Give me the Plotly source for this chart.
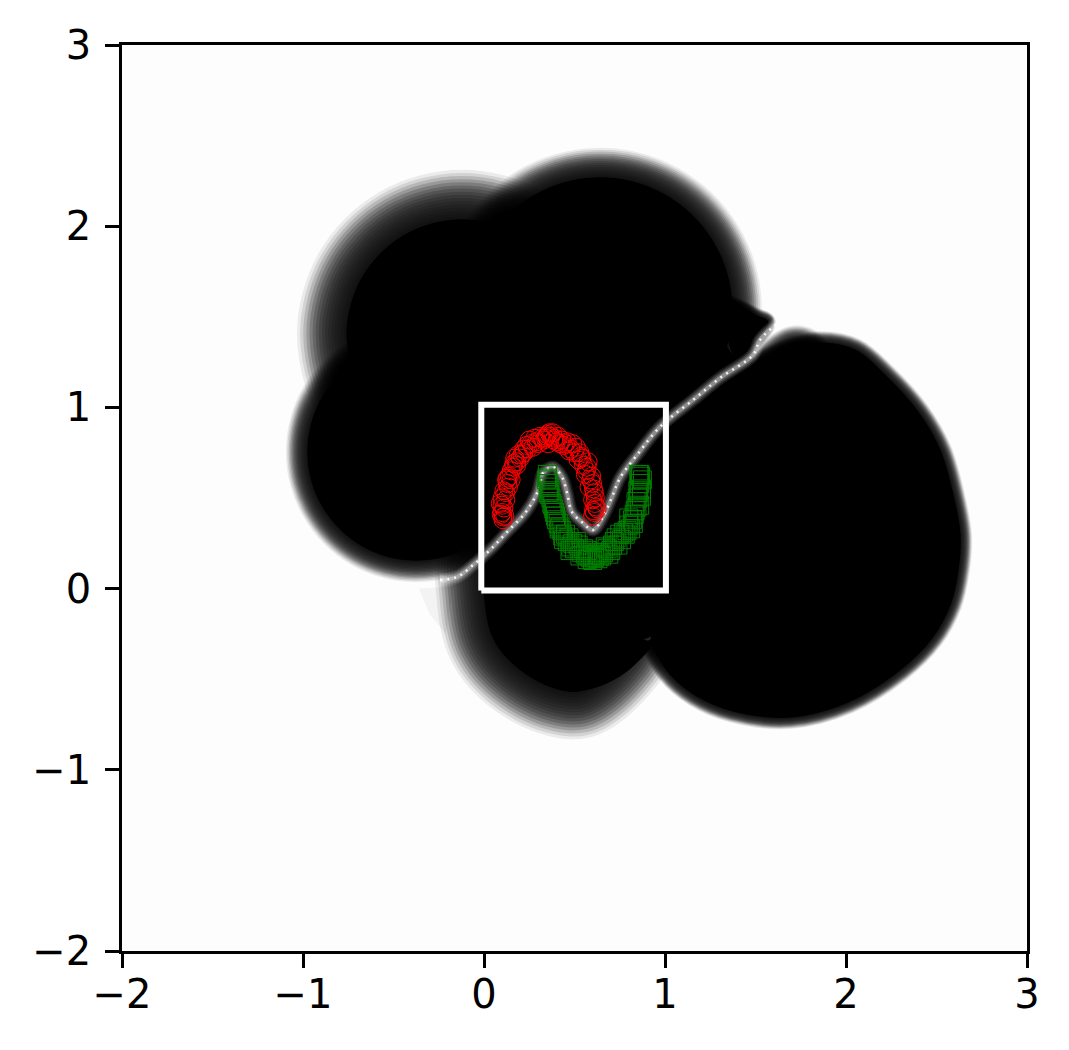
import plotly.graph_objects as go

# decision surface: black edge of each lobe
upleft_x = [-0.53, -0.672, -0.719, -0.757, -0.735, -0.672, -0.571, -0.44, -0.286, -0.122, 0.042, 0.196]
upleft_y = [0.914, 1.082, 1.183, 1.40, 1.564, 1.718, 1.849, 1.95, 2.013, 2.035, 2.013, 1.95]

top_x = [-0.044, 0.083, 0.223, 0.392, 0.577, 0.768, 0.949, 1.11, 1.238, 1.326, 1.367, 1.359, 1.302]
top_y = [1.787, 2.007, 2.135, 2.223, 2.264, 2.256, 2.199, 2.096, 1.956, 1.787, 1.602, 1.411, 1.23]

left_x = [-0.58, -0.76, -0.893, -0.953, -0.973, -0.953, -0.893, -0.798, -0.675, -0.53, -0.376, -0.221, -0.078, 0.046]
left_y = [1.315, 1.211, 1.053, 0.909, 0.754, 0.60, 0.456, 0.332, 0.237, 0.177, 0.157, 0.177, 0.237, 0.332]

bottom_x = [0.05, -0.006, 0.0, 0.017, 0.044, 0.099, 0.188, 0.298, 0.409, 0.519, 0.62, 0.707, 0.79, 0.862]
bottom_y = [0.35, 0.103, -0.008, -0.157, -0.256, -0.35, -0.438, -0.51, -0.554, -0.565, -0.505, -0.42, -0.315, -0.2]

# black part of the bottom lobe reaches further right than its soft edge
bottom_fill_x = [0.409, 0.519, 0.68, 0.82, 0.92, 0.6]
bottom_fill_y = [-0.554, -0.565, -0.52, -0.43, -0.3, -0.3]

right_x = [1.442, 1.58, 1.718, 1.856, 2.05, 2.215, 2.398, 2.519, 2.591, 2.63, 2.619, 2.575, 2.475, 2.298,
           2.011, 1.691, 1.376, 1.166, 1.017, 0.917]
right_y = [1.179, 1.273, 1.328, 1.355, 1.317, 1.179, 0.975, 0.765, 0.517, 0.296, 0.103, -0.09, -0.273, -0.449,
           -0.626, -0.709, -0.675, -0.587, -0.46, -0.284]

# dark wedges either side of the far end of the ridge
wedge_up_x = [1.28, 1.40, 1.497, 1.569, 1.481, 1.387]
wedge_up_y = [1.60, 1.56, 1.51, 1.471, 1.344, 1.234]
wedge_low_x = [1.442, 1.58, 1.70, 1.78, 1.88]
wedge_low_y = [1.179, 1.273, 1.35, 1.34, 1.22]

# solid middle between the lobes
core_x = [-0.85, -0.7, -0.3, -0.02, 0.05, 0.03, 0.6, 0.95, 2.4, 2.4, 1.7, 1.44, 1.3, 1.2, 0.6, -0.45, -0.7]
core_y = [0.8, 0.4, 0.2, 0.25, 0.15, -0.2, -0.4, -0.25, 0.0, 0.8, 1.25, 1.18, 1.4, 1.8, 2.2, 1.85, 1.4]

# faint fan under the lower left lobe
fan_x = [-0.36, -0.30, -0.21, -0.17]
fan_y = [-0.0, -0.14, -0.25, 0.01]

# pale boundary running between the two classes
ridge_x = [-0.243, -0.149, -0.06, 0.033, 0.127, 0.227, 0.293, 0.326, 0.381, 0.431, 0.459, 0.486, 0.547,
           0.602, 0.657, 0.707, 0.751, 0.845, 0.972, 1.155, 1.304, 1.486, 1.525, 1.597, 1.68]
ridge_y = [0.047, 0.064, 0.13, 0.213, 0.312, 0.417, 0.528, 0.638, 0.671, 0.616, 0.528, 0.423, 0.362,
           0.323, 0.395, 0.505, 0.61, 0.737, 0.892, 1.041, 1.162, 1.289, 1.372, 1.444, 1.51]

box_x = [-0.015, 1.005, 1.005, -0.015, -0.015]
box_y = [-0.01, -0.01, 1.015, 1.015, -0.01]

red_x = [0.105, 0.10, 0.09, 0.11, 0.10, 0.12, 0.11, 0.13, 0.125, 0.14, 0.16, 0.15, 0.18, 0.17, 0.20, 0.19, 0.22,
         0.235, 0.22, 0.26, 0.27, 0.25, 0.29, 0.31, 0.30, 0.33, 0.35, 0.34, 0.37, 0.36, 0.39, 0.41, 0.40, 0.43,
         0.45, 0.44, 0.49, 0.50, 0.48, 0.53, 0.52, 0.55, 0.54, 0.57, 0.56, 0.59, 0.58, 0.60, 0.61, 0.60, 0.62, 0.61,
         0.095, 0.105, 0.115, 0.10, 0.12, 0.135, 0.15, 0.13, 0.165, 0.18, 0.21, 0.24, 0.28, 0.32, 0.345, 0.355,
         0.38, 0.385, 0.42, 0.46, 0.47, 0.51, 0.535, 0.565, 0.575, 0.595, 0.605, 0.615, 0.605, 0.612, 0.60, 0.625]
red_y = [0.395, 0.42, 0.47, 0.445, 0.50, 0.49, 0.54, 0.58, 0.60, 0.62, 0.67, 0.65, 0.70, 0.72, 0.72, 0.74, 0.75,
         0.79, 0.77, 0.80, 0.78, 0.82, 0.81, 0.84, 0.80, 0.82, 0.85, 0.83, 0.84, 0.86, 0.83, 0.84, 0.81, 0.82,
         0.80, 0.79, 0.80, 0.75, 0.77, 0.75, 0.71, 0.68, 0.72, 0.67, 0.63, 0.60, 0.56, 0.58, 0.53, 0.49, 0.45, 0.42,
         0.41, 0.38, 0.40, 0.46, 0.53, 0.56, 0.60, 0.61, 0.69, 0.68, 0.74, 0.77, 0.83, 0.83, 0.84, 0.80,
         0.86, 0.82, 0.80, 0.81, 0.76, 0.78, 0.73, 0.65, 0.70, 0.62, 0.55, 0.50, 0.43, 0.47, 0.40, 0.44]

green_x = [0.35, 0.35, 0.355, 0.36, 0.365, 0.37, 0.39, 0.38, 0.40, 0.41, 0.43, 0.42, 0.45, 0.44, 0.47, 0.49, 0.48,
           0.50, 0.52, 0.54, 0.56, 0.55, 0.58, 0.60, 0.59, 0.62, 0.61, 0.64, 0.66, 0.65, 0.68, 0.70, 0.69, 0.72,
           0.74, 0.73, 0.76, 0.79, 0.78, 0.80, 0.82, 0.81, 0.83, 0.845, 0.84, 0.85, 0.86, 0.855, 0.87, 0.86,
           0.345, 0.355, 0.36, 0.375, 0.385, 0.395, 0.415, 0.435, 0.46, 0.475, 0.51, 0.53, 0.57, 0.57, 0.60, 0.63,
           0.63, 0.67, 0.71, 0.75, 0.77, 0.80, 0.825, 0.835, 0.85, 0.865, 0.875, 0.86, 0.87, 0.855]
green_y = [0.63, 0.61, 0.58, 0.56, 0.54, 0.50, 0.42, 0.46, 0.38, 0.36, 0.32, 0.34, 0.30, 0.27, 0.28, 0.25, 0.23,
           0.22, 0.24, 0.20, 0.19, 0.22, 0.18, 0.185, 0.17, 0.19, 0.17, 0.18, 0.20, 0.18, 0.22, 0.21, 0.19, 0.26,
           0.24, 0.28, 0.27, 0.32, 0.30, 0.35, 0.38, 0.33, 0.41, 0.45, 0.48, 0.50, 0.58, 0.53, 0.55, 0.63,
           0.60, 0.53, 0.52, 0.47, 0.44, 0.40, 0.33, 0.29, 0.26, 0.21, 0.26, 0.18, 0.21, 0.16, 0.155, 0.20,
           0.165, 0.23, 0.24, 0.30, 0.31, 0.39, 0.36, 0.43, 0.54, 0.62, 0.60, 0.46, 0.51, 0.63]

tick_vals = [-2, -1, 0, 1, 2, 3]

# soft edge: widening see-through strokes round each lobe, then black on top
step_alpha = [0.07, 0.10, 0.13, 0.16, 0.18, 0.18, 0.18, 0.18, 0.17, 0.16, 0.15, 0.14, 0.12, 0.12, 0.12, 0.12]
lobes = [
    (upleft_x, upleft_y, 50),
    (top_x, top_y, 30),
    (left_x, left_y, 22),
    (bottom_x, bottom_y, 48),
    (right_x, right_y, 12),
    (wedge_up_x, wedge_up_y, 8),
    (wedge_low_x, wedge_low_y, 18),
]

fig = go.Figure()

fig.add_trace(go.Scatter(x=fan_x, y=fan_y, mode='lines', fill='toself',
                         fillcolor='#f3f3f3', line=dict(width=0)))

steps = len(step_alpha)
for lx, ly, band in lobes:
    for i, a in enumerate(step_alpha):
        fig.add_trace(go.Scatter(
            x=lx, y=ly, mode='lines',
            line=dict(color='rgba(0,0,0,%s)' % a, width=2 * band * (steps - i) / steps, shape='spline'),
        ))

for lx, ly, band in lobes:
    fig.add_trace(go.Scatter(x=lx, y=ly, mode='lines', fill='toself', fillcolor='black',
                             line=dict(color='black', width=1, shape='spline')))

fig.add_trace(go.Scatter(x=bottom_fill_x, y=bottom_fill_y, mode='lines', fill='toself', fillcolor='black',
                         line=dict(color='black', width=1, shape='spline')))
fig.add_trace(go.Scatter(x=core_x, y=core_y, mode='lines', fill='toself', fillcolor='black',
                         line=dict(color='black', width=1)))

for w, a in [(13, 0.10), (10, 0.13), (7, 0.18), (4, 0.3)]:
    fig.add_trace(go.Scatter(x=ridge_x, y=ridge_y, mode='lines',
                             line=dict(color='rgba(255,255,255,%s)' % a, width=w, shape='spline')))
fig.add_trace(go.Scatter(x=ridge_x, y=ridge_y, mode='lines',
                         line=dict(color='rgba(255,255,255,0.9)', width=2.5, dash='2px,5px', shape='spline')))

fig.add_trace(go.Scatter(x=box_x, y=box_y, mode='lines', line=dict(color='white', width=6)))

fig.add_trace(go.Scatter(x=red_x, y=red_y, mode='markers',
                         marker=dict(symbol='circle-open', size=18, color='#ff0000', line=dict(width=1))))
fig.add_trace(go.Scatter(x=green_x, y=green_y, mode='markers',
                         marker=dict(symbol='square-open', size=18, color='#008000', line=dict(width=1))))

axis = dict(
    range=[-2, 3], tickvals=tick_vals, showgrid=False, zeroline=False,
    showline=True, mirror=True, linecolor='black', linewidth=2.5,
    ticks='outside', ticklen=14, tickwidth=2.5, tickcolor='black',
    tickfont=dict(family='DejaVu Sans', size=40, color='black'),
)

fig.update_layout(
    width=1053, height=1034,
    margin=dict(l=114, r=34, t=37, b=91),
    paper_bgcolor='white', plot_bgcolor='#fdfdfd',
    showlegend=False, hovermode=False,
    xaxis=dict(axis, ticklabelstandoff=-8), yaxis=dict(axis, ticklabelstandoff=6),
)

fig.write_html("out.html")
